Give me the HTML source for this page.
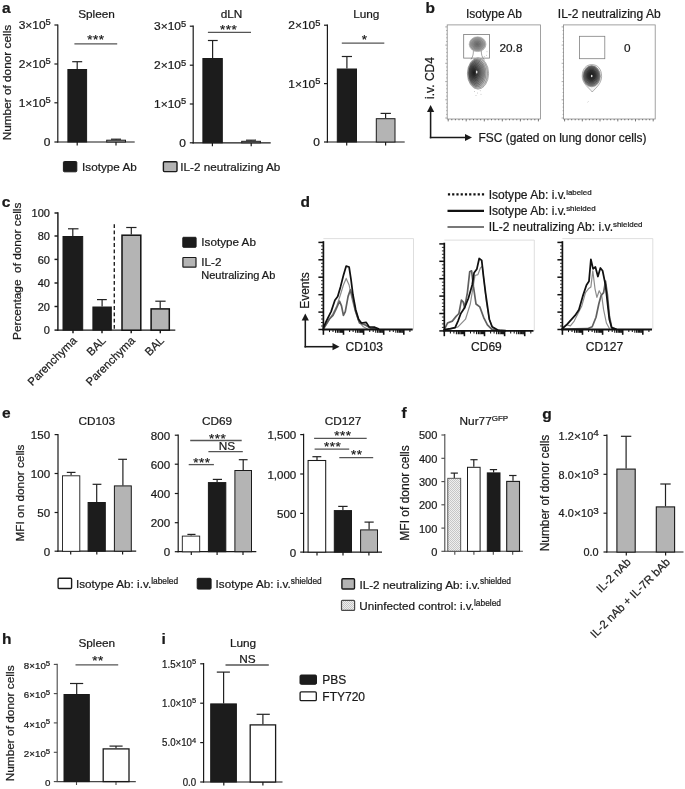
<!DOCTYPE html>
<html lang="en"><head><meta charset="utf-8"><title>Figure</title>
<style>html,body{margin:0;padding:0;background:#fff;}svg{display:block;will-change:transform;transform:translateZ(0);}text{font-family:'Liberation Sans', Arial, Helvetica, sans-serif;stroke:#1a1a1a;stroke-width:0.22px;}</style>
</head><body>
<svg width="685" height="789" viewBox="0 0 685 789">
<defs>
<pattern id="dots" width="2" height="2" patternUnits="userSpaceOnUse"><rect width="2" height="2" fill="#efefef"/><rect width="1" height="1" fill="#c6c6c6"/><rect x="1" y="1" width="1" height="1" fill="#c6c6c6"/></pattern>
<radialGradient id="blobD" cx="32%" cy="48%" r="70%"><stop offset="0" stop-color="#1c1c1c"/><stop offset="0.3" stop-color="#484848"/><stop offset="0.62" stop-color="#868686"/><stop offset="1" stop-color="#c4c4c4"/></radialGradient>
<radialGradient id="blobD2" cx="48%" cy="46%" r="58%"><stop offset="0" stop-color="#1a1a1a"/><stop offset="0.4" stop-color="#3a3a3a"/><stop offset="0.72" stop-color="#787878"/><stop offset="1" stop-color="#c0c0c0"/></radialGradient>
<radialGradient id="blobL" cx="48%" cy="50%" r="55%"><stop offset="0" stop-color="#6a6a6a"/><stop offset="0.45" stop-color="#8c8c8c"/><stop offset="0.8" stop-color="#adadad"/><stop offset="1" stop-color="#cfcfcf"/></radialGradient>
</defs>
<rect width="685" height="789" fill="#fff"/>
<text x="2.0" y="13.1" font-size="15.5" text-anchor="start" font-weight="bold" fill="#1a1a1a" >a</text>
<text x="425.5" y="12.9" font-size="15.5" text-anchor="start" font-weight="bold" fill="#1a1a1a" >b</text>
<text x="1.8" y="207.0" font-size="15.5" text-anchor="start" font-weight="bold" fill="#1a1a1a" >c</text>
<text x="300.5" y="207.3" font-size="15.5" text-anchor="start" font-weight="bold" fill="#1a1a1a" >d</text>
<text x="2.0" y="417.7" font-size="15.5" text-anchor="start" font-weight="bold" fill="#1a1a1a" >e</text>
<text x="401.5" y="418.4" font-size="15.5" text-anchor="start" font-weight="bold" fill="#1a1a1a" >f</text>
<text x="542.3" y="418.7" font-size="15.5" text-anchor="start" font-weight="bold" fill="#1a1a1a" >g</text>
<text x="2.0" y="643.7" font-size="15.5" text-anchor="start" font-weight="bold" fill="#1a1a1a" >h</text>
<text x="161.5" y="644.0" font-size="15.5" text-anchor="start" font-weight="bold" fill="#1a1a1a" >i</text>
<text transform="translate(11.3,82.6) rotate(-90) scale(1.182,1)" font-size="10.0" text-anchor="middle" fill="#1a1a1a" >Number of donor cells</text>
<text x="96.5" y="17.5" font-size="11.8" text-anchor="middle" font-weight="normal" fill="#1a1a1a" >Spleen</text>
<line x1="57.8" y1="24.4" x2="57.8" y2="142.6" stroke="#1a1a1a" stroke-width="1.2" />
<line x1="57.2" y1="142.0" x2="134.7" y2="142.0" stroke="#1a1a1a" stroke-width="1.2" />
<line x1="54.4" y1="25.0" x2="57.8" y2="25.0" stroke="#1a1a1a" stroke-width="1.2" />
<text transform="translate(50.8,29.1) scale(1.14,1)" font-size="10.5" text-anchor="end" fill="#1a1a1a">3×10<tspan dy="-3.8" font-size="8.2">5</tspan></text>
<line x1="54.4" y1="64.0" x2="57.8" y2="64.0" stroke="#1a1a1a" stroke-width="1.2" />
<text transform="translate(50.8,68.1) scale(1.14,1)" font-size="10.5" text-anchor="end" fill="#1a1a1a">2×10<tspan dy="-3.8" font-size="8.2">5</tspan></text>
<line x1="54.4" y1="102.8" x2="57.8" y2="102.8" stroke="#1a1a1a" stroke-width="1.2" />
<text transform="translate(50.8,106.9) scale(1.14,1)" font-size="10.5" text-anchor="end" fill="#1a1a1a">1×10<tspan dy="-3.8" font-size="8.2">5</tspan></text>
<line x1="54.4" y1="142.0" x2="57.8" y2="142.0" stroke="#1a1a1a" stroke-width="1.2" />
<text transform="translate(50.4,146.1) scale(1.14,1)" font-size="10.5" text-anchor="end" fill="#1a1a1a">0</text>
<line x1="77.2" y1="142.0" x2="77.2" y2="145.4" stroke="#1a1a1a" stroke-width="1.2" />
<line x1="116.0" y1="142.0" x2="116.0" y2="145.4" stroke="#1a1a1a" stroke-width="1.2" />
<line x1="77.2" y1="61.7" x2="77.2" y2="69.0" stroke="#222" stroke-width="1.2" />
<line x1="72.2" y1="61.7" x2="82.2" y2="61.7" stroke="#222" stroke-width="1.2" />
<rect x="67.9" y="69.5" width="18.7" height="72.5" fill="#1c1c1c" stroke="#1a1a1a" stroke-width="1.0"/>
<line x1="116.1" y1="139.2" x2="116.1" y2="139.7" stroke="#222" stroke-width="1.2" />
<line x1="111.0" y1="139.2" x2="121.0" y2="139.2" stroke="#222" stroke-width="1.2" />
<rect x="106.7" y="140.2" width="18.8" height="1.8" fill="#b4b4b4" stroke="#1a1a1a" stroke-width="1.0"/>
<line x1="74.4" y1="43.8" x2="117.2" y2="43.8" stroke="#555" stroke-width="1.3" />
<text x="96.0" y="43.9" font-size="13.5" text-anchor="middle" font-weight="normal" fill="#1a1a1a" letter-spacing="0.5">***</text>
<text x="231.5" y="17.5" font-size="11.8" text-anchor="middle" font-weight="normal" fill="#1a1a1a" >dLN</text>
<line x1="193.2" y1="25.4" x2="193.2" y2="143.4" stroke="#1a1a1a" stroke-width="1.2" />
<line x1="192.6" y1="142.8" x2="270.7" y2="142.8" stroke="#1a1a1a" stroke-width="1.2" />
<line x1="189.8" y1="26.2" x2="193.2" y2="26.2" stroke="#1a1a1a" stroke-width="1.2" />
<text transform="translate(186.2,30.3) scale(1.14,1)" font-size="10.5" text-anchor="end" fill="#1a1a1a">3×10<tspan dy="-3.8" font-size="8.2">5</tspan></text>
<line x1="189.8" y1="65.2" x2="193.2" y2="65.2" stroke="#1a1a1a" stroke-width="1.2" />
<text transform="translate(186.2,69.3) scale(1.14,1)" font-size="10.5" text-anchor="end" fill="#1a1a1a">2×10<tspan dy="-3.8" font-size="8.2">5</tspan></text>
<line x1="189.8" y1="104.0" x2="193.2" y2="104.0" stroke="#1a1a1a" stroke-width="1.2" />
<text transform="translate(186.2,108.1) scale(1.14,1)" font-size="10.5" text-anchor="end" fill="#1a1a1a">1×10<tspan dy="-3.8" font-size="8.2">5</tspan></text>
<line x1="189.8" y1="142.8" x2="193.2" y2="142.8" stroke="#1a1a1a" stroke-width="1.2" />
<text transform="translate(185.8,146.9) scale(1.14,1)" font-size="10.5" text-anchor="end" fill="#1a1a1a">0</text>
<line x1="212.4" y1="142.8" x2="212.4" y2="146.2" stroke="#1a1a1a" stroke-width="1.2" />
<line x1="251.2" y1="142.8" x2="251.2" y2="146.2" stroke="#1a1a1a" stroke-width="1.2" />
<line x1="212.6" y1="40.5" x2="212.6" y2="58.0" stroke="#222" stroke-width="1.2" />
<line x1="207.9" y1="40.5" x2="217.7" y2="40.5" stroke="#222" stroke-width="1.2" />
<rect x="202.9" y="58.5" width="19.4" height="84.3" fill="#1c1c1c" stroke="#1a1a1a" stroke-width="1.0"/>
<line x1="251.0" y1="140.2" x2="251.0" y2="140.8" stroke="#222" stroke-width="1.2" />
<line x1="246.0" y1="140.2" x2="256.0" y2="140.2" stroke="#222" stroke-width="1.2" />
<rect x="241.7" y="141.3" width="18.7" height="1.5" fill="#b4b4b4" stroke="#1a1a1a" stroke-width="1.0"/>
<line x1="207.9" y1="32.4" x2="251.0" y2="32.4" stroke="#555" stroke-width="1.3" />
<text x="228.7" y="34.1" font-size="13.5" text-anchor="middle" font-weight="normal" fill="#1a1a1a" letter-spacing="0.5">***</text>
<text x="366.3" y="17.5" font-size="11.8" text-anchor="middle" font-weight="normal" fill="#1a1a1a" >Lung</text>
<line x1="327.4" y1="24.4" x2="327.4" y2="142.6" stroke="#1a1a1a" stroke-width="1.2" />
<line x1="326.8" y1="142.0" x2="404.7" y2="142.0" stroke="#1a1a1a" stroke-width="1.2" />
<line x1="324.0" y1="25.2" x2="327.4" y2="25.2" stroke="#1a1a1a" stroke-width="1.2" />
<text transform="translate(320.4,29.3) scale(1.14,1)" font-size="10.5" text-anchor="end" fill="#1a1a1a">2×10<tspan dy="-3.8" font-size="8.2">5</tspan></text>
<line x1="324.0" y1="83.6" x2="327.4" y2="83.6" stroke="#1a1a1a" stroke-width="1.2" />
<text transform="translate(320.4,87.7) scale(1.14,1)" font-size="10.5" text-anchor="end" fill="#1a1a1a">1×10<tspan dy="-3.8" font-size="8.2">5</tspan></text>
<line x1="324.0" y1="142.0" x2="327.4" y2="142.0" stroke="#1a1a1a" stroke-width="1.2" />
<text transform="translate(320.0,146.1) scale(1.14,1)" font-size="10.5" text-anchor="end" fill="#1a1a1a">0</text>
<line x1="346.7" y1="142.0" x2="346.7" y2="145.4" stroke="#1a1a1a" stroke-width="1.2" />
<line x1="385.6" y1="142.0" x2="385.6" y2="145.4" stroke="#1a1a1a" stroke-width="1.2" />
<line x1="346.9" y1="56.5" x2="346.9" y2="68.5" stroke="#222" stroke-width="1.2" />
<line x1="341.8" y1="56.5" x2="352.0" y2="56.5" stroke="#222" stroke-width="1.2" />
<rect x="337.3" y="69.0" width="19.2" height="73.0" fill="#1c1c1c" stroke="#1a1a1a" stroke-width="1.0"/>
<line x1="385.6" y1="113.4" x2="385.6" y2="118.2" stroke="#222" stroke-width="1.2" />
<line x1="380.6" y1="113.4" x2="390.9" y2="113.4" stroke="#222" stroke-width="1.2" />
<rect x="376.3" y="118.7" width="18.7" height="23.3" fill="#b4b4b4" stroke="#1a1a1a" stroke-width="1.0"/>
<line x1="341.8" y1="43.1" x2="384.3" y2="43.1" stroke="#555" stroke-width="1.3" />
<text x="364.6" y="43.5" font-size="13.5" text-anchor="middle" font-weight="normal" fill="#1a1a1a" letter-spacing="0.5">*</text>
<rect x="63.4" y="161.5" width="13.4" height="10.3" rx="1.0" fill="#1c1c1c" stroke="#1a1a1a" stroke-width="1.0"/>
<text x="82.1" y="171.3" font-size="11.7" text-anchor="start" font-weight="normal" fill="#1a1a1a" >Isotype Ab</text>
<rect x="163.4" y="161.7" width="13.6" height="9.9" rx="1.0" fill="#b4b4b4" stroke="#1a1a1a" stroke-width="1.4"/>
<text x="180.3" y="171.3" font-size="11.7" text-anchor="start" font-weight="normal" fill="#1a1a1a" >IL-2 neutralizing Ab</text>
<text x="494.0" y="18.0" font-size="12.0" text-anchor="middle" font-weight="normal" fill="#1a1a1a" >Isotype Ab</text>
<text x="609.2" y="18.0" font-size="12.0" text-anchor="middle" font-weight="normal" fill="#1a1a1a" >IL-2 neutralizing Ab</text>
<rect x="447.2" y="24.9" width="93.2" height="94.1" fill="none" stroke="#8a8a8a" stroke-width="0.8"/>
<line x1="448.2" y1="119.0" x2="448.2" y2="121.4" stroke="#555" stroke-width="0.8" />
<line x1="451.8" y1="119.0" x2="451.8" y2="120.3" stroke="#555" stroke-width="0.8" />
<line x1="455.4" y1="119.0" x2="455.4" y2="120.3" stroke="#555" stroke-width="0.8" />
<line x1="459.0" y1="119.0" x2="459.0" y2="120.3" stroke="#555" stroke-width="0.8" />
<line x1="462.6" y1="119.0" x2="462.6" y2="120.3" stroke="#555" stroke-width="0.8" />
<line x1="466.2" y1="119.0" x2="466.2" y2="121.4" stroke="#555" stroke-width="0.8" />
<line x1="469.8" y1="119.0" x2="469.8" y2="120.3" stroke="#555" stroke-width="0.8" />
<line x1="473.5" y1="119.0" x2="473.5" y2="120.3" stroke="#555" stroke-width="0.8" />
<line x1="477.1" y1="119.0" x2="477.1" y2="120.3" stroke="#555" stroke-width="0.8" />
<line x1="480.7" y1="119.0" x2="480.7" y2="120.3" stroke="#555" stroke-width="0.8" />
<line x1="484.3" y1="119.0" x2="484.3" y2="121.4" stroke="#555" stroke-width="0.8" />
<line x1="487.9" y1="119.0" x2="487.9" y2="120.3" stroke="#555" stroke-width="0.8" />
<line x1="491.5" y1="119.0" x2="491.5" y2="120.3" stroke="#555" stroke-width="0.8" />
<line x1="495.1" y1="119.0" x2="495.1" y2="120.3" stroke="#555" stroke-width="0.8" />
<line x1="498.7" y1="119.0" x2="498.7" y2="120.3" stroke="#555" stroke-width="0.8" />
<line x1="502.3" y1="119.0" x2="502.3" y2="121.4" stroke="#555" stroke-width="0.8" />
<line x1="505.9" y1="119.0" x2="505.9" y2="120.3" stroke="#555" stroke-width="0.8" />
<line x1="509.5" y1="119.0" x2="509.5" y2="120.3" stroke="#555" stroke-width="0.8" />
<line x1="513.1" y1="119.0" x2="513.1" y2="120.3" stroke="#555" stroke-width="0.8" />
<line x1="516.8" y1="119.0" x2="516.8" y2="120.3" stroke="#555" stroke-width="0.8" />
<line x1="520.4" y1="119.0" x2="520.4" y2="121.4" stroke="#555" stroke-width="0.8" />
<line x1="524.0" y1="119.0" x2="524.0" y2="120.3" stroke="#555" stroke-width="0.8" />
<line x1="527.6" y1="119.0" x2="527.6" y2="120.3" stroke="#555" stroke-width="0.8" />
<line x1="531.2" y1="119.0" x2="531.2" y2="120.3" stroke="#555" stroke-width="0.8" />
<line x1="534.8" y1="119.0" x2="534.8" y2="120.3" stroke="#555" stroke-width="0.8" />
<line x1="538.4" y1="119.0" x2="538.4" y2="121.4" stroke="#555" stroke-width="0.8" />
<line x1="445.2" y1="118.0" x2="447.2" y2="118.0" stroke="#777" stroke-width="0.6" />
<line x1="446.2" y1="114.4" x2="447.2" y2="114.4" stroke="#777" stroke-width="0.6" />
<line x1="446.2" y1="110.7" x2="447.2" y2="110.7" stroke="#777" stroke-width="0.6" />
<line x1="446.2" y1="107.1" x2="447.2" y2="107.1" stroke="#777" stroke-width="0.6" />
<line x1="446.2" y1="103.4" x2="447.2" y2="103.4" stroke="#777" stroke-width="0.6" />
<line x1="445.2" y1="99.8" x2="447.2" y2="99.8" stroke="#777" stroke-width="0.6" />
<line x1="446.2" y1="96.1" x2="447.2" y2="96.1" stroke="#777" stroke-width="0.6" />
<line x1="446.2" y1="92.5" x2="447.2" y2="92.5" stroke="#777" stroke-width="0.6" />
<line x1="446.2" y1="88.8" x2="447.2" y2="88.8" stroke="#777" stroke-width="0.6" />
<line x1="446.2" y1="85.2" x2="447.2" y2="85.2" stroke="#777" stroke-width="0.6" />
<line x1="445.2" y1="81.6" x2="447.2" y2="81.6" stroke="#777" stroke-width="0.6" />
<line x1="446.2" y1="77.9" x2="447.2" y2="77.9" stroke="#777" stroke-width="0.6" />
<line x1="446.2" y1="74.3" x2="447.2" y2="74.3" stroke="#777" stroke-width="0.6" />
<line x1="446.2" y1="70.6" x2="447.2" y2="70.6" stroke="#777" stroke-width="0.6" />
<line x1="446.2" y1="67.0" x2="447.2" y2="67.0" stroke="#777" stroke-width="0.6" />
<line x1="445.2" y1="63.3" x2="447.2" y2="63.3" stroke="#777" stroke-width="0.6" />
<line x1="446.2" y1="59.7" x2="447.2" y2="59.7" stroke="#777" stroke-width="0.6" />
<line x1="446.2" y1="56.1" x2="447.2" y2="56.1" stroke="#777" stroke-width="0.6" />
<line x1="446.2" y1="52.4" x2="447.2" y2="52.4" stroke="#777" stroke-width="0.6" />
<line x1="446.2" y1="48.8" x2="447.2" y2="48.8" stroke="#777" stroke-width="0.6" />
<line x1="445.2" y1="45.1" x2="447.2" y2="45.1" stroke="#777" stroke-width="0.6" />
<line x1="446.2" y1="41.5" x2="447.2" y2="41.5" stroke="#777" stroke-width="0.6" />
<line x1="446.2" y1="37.8" x2="447.2" y2="37.8" stroke="#777" stroke-width="0.6" />
<line x1="446.2" y1="34.2" x2="447.2" y2="34.2" stroke="#777" stroke-width="0.6" />
<line x1="446.2" y1="30.5" x2="447.2" y2="30.5" stroke="#777" stroke-width="0.6" />
<line x1="445.2" y1="26.9" x2="447.2" y2="26.9" stroke="#777" stroke-width="0.6" />
<rect x="563.6" y="24.9" width="91.6" height="94.1" fill="none" stroke="#8a8a8a" stroke-width="0.8"/>
<line x1="564.6" y1="119.0" x2="564.6" y2="121.4" stroke="#555" stroke-width="0.8" />
<line x1="568.1" y1="119.0" x2="568.1" y2="120.3" stroke="#555" stroke-width="0.8" />
<line x1="571.7" y1="119.0" x2="571.7" y2="120.3" stroke="#555" stroke-width="0.8" />
<line x1="575.2" y1="119.0" x2="575.2" y2="120.3" stroke="#555" stroke-width="0.8" />
<line x1="578.8" y1="119.0" x2="578.8" y2="120.3" stroke="#555" stroke-width="0.8" />
<line x1="582.3" y1="119.0" x2="582.3" y2="121.4" stroke="#555" stroke-width="0.8" />
<line x1="585.9" y1="119.0" x2="585.9" y2="120.3" stroke="#555" stroke-width="0.8" />
<line x1="589.4" y1="119.0" x2="589.4" y2="120.3" stroke="#555" stroke-width="0.8" />
<line x1="593.0" y1="119.0" x2="593.0" y2="120.3" stroke="#555" stroke-width="0.8" />
<line x1="596.5" y1="119.0" x2="596.5" y2="120.3" stroke="#555" stroke-width="0.8" />
<line x1="600.0" y1="119.0" x2="600.0" y2="121.4" stroke="#555" stroke-width="0.8" />
<line x1="603.6" y1="119.0" x2="603.6" y2="120.3" stroke="#555" stroke-width="0.8" />
<line x1="607.1" y1="119.0" x2="607.1" y2="120.3" stroke="#555" stroke-width="0.8" />
<line x1="610.7" y1="119.0" x2="610.7" y2="120.3" stroke="#555" stroke-width="0.8" />
<line x1="614.2" y1="119.0" x2="614.2" y2="120.3" stroke="#555" stroke-width="0.8" />
<line x1="617.8" y1="119.0" x2="617.8" y2="121.4" stroke="#555" stroke-width="0.8" />
<line x1="621.3" y1="119.0" x2="621.3" y2="120.3" stroke="#555" stroke-width="0.8" />
<line x1="624.8" y1="119.0" x2="624.8" y2="120.3" stroke="#555" stroke-width="0.8" />
<line x1="628.4" y1="119.0" x2="628.4" y2="120.3" stroke="#555" stroke-width="0.8" />
<line x1="631.9" y1="119.0" x2="631.9" y2="120.3" stroke="#555" stroke-width="0.8" />
<line x1="635.5" y1="119.0" x2="635.5" y2="121.4" stroke="#555" stroke-width="0.8" />
<line x1="639.0" y1="119.0" x2="639.0" y2="120.3" stroke="#555" stroke-width="0.8" />
<line x1="642.6" y1="119.0" x2="642.6" y2="120.3" stroke="#555" stroke-width="0.8" />
<line x1="646.1" y1="119.0" x2="646.1" y2="120.3" stroke="#555" stroke-width="0.8" />
<line x1="649.7" y1="119.0" x2="649.7" y2="120.3" stroke="#555" stroke-width="0.8" />
<line x1="653.2" y1="119.0" x2="653.2" y2="121.4" stroke="#555" stroke-width="0.8" />
<line x1="561.6" y1="118.0" x2="563.6" y2="118.0" stroke="#777" stroke-width="0.6" />
<line x1="562.6" y1="114.4" x2="563.6" y2="114.4" stroke="#777" stroke-width="0.6" />
<line x1="562.6" y1="110.7" x2="563.6" y2="110.7" stroke="#777" stroke-width="0.6" />
<line x1="562.6" y1="107.1" x2="563.6" y2="107.1" stroke="#777" stroke-width="0.6" />
<line x1="562.6" y1="103.4" x2="563.6" y2="103.4" stroke="#777" stroke-width="0.6" />
<line x1="561.6" y1="99.8" x2="563.6" y2="99.8" stroke="#777" stroke-width="0.6" />
<line x1="562.6" y1="96.1" x2="563.6" y2="96.1" stroke="#777" stroke-width="0.6" />
<line x1="562.6" y1="92.5" x2="563.6" y2="92.5" stroke="#777" stroke-width="0.6" />
<line x1="562.6" y1="88.8" x2="563.6" y2="88.8" stroke="#777" stroke-width="0.6" />
<line x1="562.6" y1="85.2" x2="563.6" y2="85.2" stroke="#777" stroke-width="0.6" />
<line x1="561.6" y1="81.6" x2="563.6" y2="81.6" stroke="#777" stroke-width="0.6" />
<line x1="562.6" y1="77.9" x2="563.6" y2="77.9" stroke="#777" stroke-width="0.6" />
<line x1="562.6" y1="74.3" x2="563.6" y2="74.3" stroke="#777" stroke-width="0.6" />
<line x1="562.6" y1="70.6" x2="563.6" y2="70.6" stroke="#777" stroke-width="0.6" />
<line x1="562.6" y1="67.0" x2="563.6" y2="67.0" stroke="#777" stroke-width="0.6" />
<line x1="561.6" y1="63.3" x2="563.6" y2="63.3" stroke="#777" stroke-width="0.6" />
<line x1="562.6" y1="59.7" x2="563.6" y2="59.7" stroke="#777" stroke-width="0.6" />
<line x1="562.6" y1="56.1" x2="563.6" y2="56.1" stroke="#777" stroke-width="0.6" />
<line x1="562.6" y1="52.4" x2="563.6" y2="52.4" stroke="#777" stroke-width="0.6" />
<line x1="562.6" y1="48.8" x2="563.6" y2="48.8" stroke="#777" stroke-width="0.6" />
<line x1="561.6" y1="45.1" x2="563.6" y2="45.1" stroke="#777" stroke-width="0.6" />
<line x1="562.6" y1="41.5" x2="563.6" y2="41.5" stroke="#777" stroke-width="0.6" />
<line x1="562.6" y1="37.8" x2="563.6" y2="37.8" stroke="#777" stroke-width="0.6" />
<line x1="562.6" y1="34.2" x2="563.6" y2="34.2" stroke="#777" stroke-width="0.6" />
<line x1="562.6" y1="30.5" x2="563.6" y2="30.5" stroke="#777" stroke-width="0.6" />
<line x1="561.6" y1="26.9" x2="563.6" y2="26.9" stroke="#777" stroke-width="0.6" />
<rect x="463.7" y="34.4" width="25.7" height="23.7" fill="none" stroke="#787878" stroke-width="0.8"/>
<rect x="579.6" y="36.3" width="25.2" height="22.4" fill="none" stroke="#808080" stroke-width="0.8"/>
<text x="499.5" y="52.0" font-size="11.8" text-anchor="start" font-weight="normal" fill="#1a1a1a" >20.8</text>
<text x="627.3" y="52.0" font-size="11.8" text-anchor="middle" font-weight="normal" fill="#1a1a1a" >0</text>
<g>
<ellipse cx="477.6" cy="44.2" rx="8.4" ry="7.4" fill="url(#blobL)" stroke="#8a8a8a" stroke-width="0.5"/>
<ellipse cx="477.50" cy="44.1" rx="7.2" ry="6.3" fill="none" stroke="#555" stroke-width="0.4" opacity="0.7"/>
<ellipse cx="477.45" cy="44.1" rx="6.0" ry="5.2" fill="none" stroke="#555" stroke-width="0.4" opacity="0.7"/>
<ellipse cx="477.40" cy="44.1" rx="4.8" ry="4.2" fill="none" stroke="#555" stroke-width="0.4" opacity="0.7"/>
<ellipse cx="477.35" cy="44.1" rx="3.6" ry="3.1" fill="none" stroke="#555" stroke-width="0.4" opacity="0.7"/>
<ellipse cx="477.30" cy="44.1" rx="2.4" ry="2.1" fill="none" stroke="#555" stroke-width="0.4" opacity="0.7"/>
<ellipse cx="477.25" cy="44.1" rx="1.2" ry="1.0" fill="none" stroke="#555" stroke-width="0.4" opacity="0.7"/>
<path d="M473.4,50.8 C473.3,54 473.2,56 471.0,59.5" fill="none" stroke="#6a6a6a" stroke-width="0.6"/>
<path d="M481.3,50.8 C481.3,54 481.6,56.5 484.6,60.5" fill="none" stroke="#6a6a6a" stroke-width="0.6"/>
<ellipse cx="478.0" cy="73.5" rx="10.6" ry="15.7" fill="#e4e4e4" stroke="#6a6a6a" stroke-width="0.5"/>
<ellipse cx="477.7" cy="73.4" rx="9.8" ry="14.8" fill="#cfcfcf" stroke="#5a5a5a" stroke-width="0.5"/>
<ellipse cx="477.2" cy="73.2" rx="8.8" ry="13.8" fill="url(#blobD)" stroke="#444" stroke-width="0.4"/>
<ellipse cx="476.90" cy="73.00" rx="7.8" ry="12.4" fill="none" stroke="#1a1a1a" stroke-width="0.4" opacity="0.75"/>
<ellipse cx="476.78" cy="72.90" rx="6.8" ry="11" fill="none" stroke="#1a1a1a" stroke-width="0.4" opacity="0.75"/>
<ellipse cx="476.66" cy="72.80" rx="5.8" ry="9.6" fill="none" stroke="#1a1a1a" stroke-width="0.4" opacity="0.75"/>
<ellipse cx="476.54" cy="72.70" rx="4.8" ry="8.2" fill="none" stroke="#1a1a1a" stroke-width="0.4" opacity="0.75"/>
<ellipse cx="476.42" cy="72.60" rx="3.8" ry="6.8" fill="none" stroke="#1a1a1a" stroke-width="0.4" opacity="0.75"/>
<ellipse cx="476.30" cy="72.50" rx="2.8" ry="5.2" fill="none" stroke="#1a1a1a" stroke-width="0.4" opacity="0.75"/>
<ellipse cx="476.18" cy="72.40" rx="1.8" ry="3.6" fill="none" stroke="#1a1a1a" stroke-width="0.4" opacity="0.75"/>
<ellipse cx="476.7" cy="72.0" rx="0.8" ry="1.5" fill="#e6e6e6"/>
<circle cx="474.5" cy="91.5" r="0.45" fill="#999"/>
<circle cx="477.5" cy="93" r="0.45" fill="#999"/>
<circle cx="480.2" cy="90.8" r="0.45" fill="#999"/>
<circle cx="476" cy="95.5" r="0.45" fill="#999"/>
<circle cx="481" cy="94.2" r="0.45" fill="#999"/>
<circle cx="483.5" cy="86.8" r="0.45" fill="#999"/>
<circle cx="486.5" cy="55.2" r="0.45" fill="#999"/>
<circle cx="484.2" cy="56.5" r="0.45" fill="#999"/>
<circle cx="487" cy="51.8" r="0.45" fill="#999"/>
</g>
<g transform="translate(0.8,0)">
<path d="M581.4,76.3 C581.4,68.6 585.6,64.6 591,64.6 C596.6,64.6 600.8,68.6 600.8,76.3 C600.8,83.6 595.4,87.6 591.4,92 C588,87.6 581.4,83.6 581.4,76.3 Z" fill="#f2f2f2" stroke="#666" stroke-width="0.5"/>
<ellipse cx="590.9" cy="76.2" rx="8.7" ry="10.6" fill="url(#blobD2)" stroke="#444" stroke-width="0.4"/>
<ellipse cx="590.8" cy="76.20" rx="7.7" ry="9.4" fill="none" stroke="#161616" stroke-width="0.4" opacity="0.8"/>
<ellipse cx="590.8" cy="76.15" rx="6.7" ry="8.2" fill="none" stroke="#161616" stroke-width="0.4" opacity="0.8"/>
<ellipse cx="590.8" cy="76.10" rx="5.7" ry="7.0" fill="none" stroke="#161616" stroke-width="0.4" opacity="0.8"/>
<ellipse cx="590.8" cy="76.05" rx="4.7" ry="5.8" fill="none" stroke="#161616" stroke-width="0.4" opacity="0.8"/>
<ellipse cx="590.8" cy="76.00" rx="3.7" ry="4.6" fill="none" stroke="#161616" stroke-width="0.4" opacity="0.8"/>
<ellipse cx="590.8" cy="75.95" rx="2.7" ry="3.4" fill="none" stroke="#161616" stroke-width="0.4" opacity="0.8"/>
<ellipse cx="590.8" cy="75.90" rx="1.7" ry="2.2" fill="none" stroke="#161616" stroke-width="0.4" opacity="0.8"/>
<ellipse cx="590.9" cy="76.0" rx="0.8" ry="1.3" fill="#e6e6e6"/>
</g>
<circle cx="588.2" cy="101.5" r="0.45" fill="#bbb"/><circle cx="587.4" cy="102.4" r="0.4" fill="#ccc"/>
<line x1="430.6" y1="109.9" x2="430.6" y2="138.3" stroke="#1a1a1a" stroke-width="1.55" />
<line x1="429.8" y1="137.5" x2="467.0" y2="137.5" stroke="#1a1a1a" stroke-width="1.55" />
<polygon points="430.6,104.9 427.0,111.9 434.2,111.9" fill="#1a1a1a"/>
<polygon points="472.0,137.5 465.0,133.9 465.0,141.1" fill="#1a1a1a"/>
<text transform="translate(434.2,78.0) rotate(-90) scale(1,1)" font-size="12.0" text-anchor="middle" fill="#1a1a1a" >i.v. CD4</text>
<text x="478.6" y="141.5" font-size="11.9" text-anchor="start" font-weight="normal" fill="#1a1a1a" >FSC (gated on lung donor cells)</text>
<text transform="translate(21.0,271.3) rotate(-90) scale(1.15,1)" font-size="10.3" text-anchor="middle" fill="#1a1a1a" >Percentage&#160; of donor cells</text>
<line x1="57.9" y1="212.3" x2="57.9" y2="330.8" stroke="#1a1a1a" stroke-width="1.45" />
<line x1="57.2" y1="330.1" x2="175.3" y2="330.1" stroke="#1a1a1a" stroke-width="1.45" />
<line x1="54.5" y1="213.0" x2="57.9" y2="213.0" stroke="#1a1a1a" stroke-width="1.45" />
<text transform="translate(49.9,217.1) scale(1.05,1)" font-size="10.5" text-anchor="end" fill="#1a1a1a">100</text>
<line x1="54.5" y1="236.0" x2="57.9" y2="236.0" stroke="#1a1a1a" stroke-width="1.45" />
<text transform="translate(49.9,240.1) scale(1.05,1)" font-size="10.5" text-anchor="end" fill="#1a1a1a">80</text>
<line x1="54.5" y1="259.4" x2="57.9" y2="259.4" stroke="#1a1a1a" stroke-width="1.45" />
<text transform="translate(49.9,263.5) scale(1.05,1)" font-size="10.5" text-anchor="end" fill="#1a1a1a">60</text>
<line x1="54.5" y1="283.0" x2="57.9" y2="283.0" stroke="#1a1a1a" stroke-width="1.45" />
<text transform="translate(49.9,287.1) scale(1.05,1)" font-size="10.5" text-anchor="end" fill="#1a1a1a">40</text>
<line x1="54.5" y1="306.5" x2="57.9" y2="306.5" stroke="#1a1a1a" stroke-width="1.45" />
<text transform="translate(49.9,310.6) scale(1.05,1)" font-size="10.5" text-anchor="end" fill="#1a1a1a">20</text>
<line x1="54.5" y1="330.1" x2="57.9" y2="330.1" stroke="#1a1a1a" stroke-width="1.45" />
<text transform="translate(49.9,334.2) scale(1.05,1)" font-size="10.5" text-anchor="end" fill="#1a1a1a">0</text>
<line x1="73.0" y1="330.1" x2="73.0" y2="333.3" stroke="#1a1a1a" stroke-width="1.45" />
<line x1="102.0" y1="330.1" x2="102.0" y2="333.3" stroke="#1a1a1a" stroke-width="1.45" />
<line x1="131.2" y1="330.1" x2="131.2" y2="333.3" stroke="#1a1a1a" stroke-width="1.45" />
<line x1="160.3" y1="330.1" x2="160.3" y2="333.3" stroke="#1a1a1a" stroke-width="1.45" />
<line x1="72.8" y1="228.8" x2="72.8" y2="236.0" stroke="#222" stroke-width="1.2" />
<line x1="68.0" y1="228.8" x2="78.5" y2="228.8" stroke="#222" stroke-width="1.2" />
<rect x="63.0" y="236.5" width="19.7" height="93.6" fill="#1c1c1c" stroke="#1a1a1a" stroke-width="1.0"/>
<line x1="102.1" y1="299.6" x2="102.1" y2="306.5" stroke="#222" stroke-width="1.2" />
<line x1="97.0" y1="299.6" x2="106.8" y2="299.6" stroke="#222" stroke-width="1.2" />
<rect x="92.9" y="307.0" width="18.4" height="23.1" fill="#1c1c1c" stroke="#1a1a1a" stroke-width="1.0"/>
<line x1="114.3" y1="224.2" x2="114.3" y2="330.0" stroke="#222" stroke-width="1.4" stroke-dasharray="3.8 2.5"/>
<line x1="131.3" y1="227.5" x2="131.3" y2="234.4" stroke="#222" stroke-width="1.2" />
<line x1="126.2" y1="227.5" x2="136.5" y2="227.5" stroke="#222" stroke-width="1.2" />
<rect x="122.0" y="235.2" width="18.8" height="95.0" fill="#b4b4b4" stroke="#111" stroke-width="1.5"/>
<line x1="160.2" y1="301.2" x2="160.2" y2="308.2" stroke="#222" stroke-width="1.2" />
<line x1="155.3" y1="301.2" x2="165.6" y2="301.2" stroke="#222" stroke-width="1.2" />
<rect x="151.1" y="308.9" width="18.2" height="21.2" fill="#b4b4b4" stroke="#111" stroke-width="1.5"/>
<text transform="translate(77.5,341.2) rotate(-45) scale(1,1)" font-size="11.4" text-anchor="end" fill="#1a1a1a" >Parenchyma</text>
<text transform="translate(106.5,341.2) rotate(-45) scale(1,1)" font-size="11.4" text-anchor="end" fill="#1a1a1a" >BAL</text>
<text transform="translate(135.7,341.2) rotate(-45) scale(1,1)" font-size="11.4" text-anchor="end" fill="#1a1a1a" >Parenchyma</text>
<text transform="translate(164.8,341.2) rotate(-45) scale(1,1)" font-size="11.4" text-anchor="end" fill="#1a1a1a" >BAL</text>
<rect x="182.8" y="237.3" width="13.3" height="10.0" rx="0.6" fill="#1c1c1c" stroke="#1a1a1a" stroke-width="1.0"/>
<text x="201.3" y="246.3" font-size="11.7" text-anchor="start" font-weight="normal" fill="#1a1a1a" >Isotype Ab</text>
<rect x="182.9" y="257.5" width="13.1" height="9.6" rx="0.6" fill="#b4b4b4" stroke="#1a1a1a" stroke-width="1.2"/>
<text x="201.3" y="266.4" font-size="11.7" text-anchor="start" font-weight="normal" fill="#1a1a1a" >IL-2</text>
<text x="201.3" y="279.1" font-size="11" text-anchor="start" font-weight="normal" fill="#1a1a1a" >Neutralizing Ab</text>
<line x1="447.9" y1="194.3" x2="484.2" y2="194.3" stroke="#111" stroke-width="2.3" stroke-dasharray="2.2 2.05"/>
<text x="488.7" y="198.5" font-size="12.05" text-anchor="start" font-weight="normal" fill="#1a1a1a" >Isotype Ab: i.v.<tspan dy="-3.9" font-size="7.9">labeled</tspan></text>
<line x1="447.5" y1="210.8" x2="484.0" y2="210.8" stroke="#111" stroke-width="2.3" />
<text x="488.7" y="214.5" font-size="12.05" text-anchor="start" font-weight="normal" fill="#1a1a1a" >Isotype Ab: i.v.<tspan dy="-3.9" font-size="7.9">shielded</tspan></text>
<line x1="447.5" y1="227.0" x2="484.0" y2="227.0" stroke="#787878" stroke-width="2.1" />
<text x="488.7" y="231.0" font-size="12.05" text-anchor="start" font-weight="normal" fill="#1a1a1a" >IL-2 neutralizing Ab: i.v.<tspan dy="-3.9" font-size="7.9">shielded</tspan></text>
<polyline points="323.4,238.6 413.5,238.6 413.5,329.5" fill="none" stroke="#d6d6d6" stroke-width="0.8"/>
<polyline points="323.5,328.7 327.3,323.0 333.0,313.5 336.8,305.9 340.5,294.5 343.4,285.0 346.2,278.4 349.1,285.0 351.9,298.3 354.8,309.7 358.6,321.1 363.3,326.8 367.1,328.7" fill="none" stroke="#8c8c8c" stroke-width="1.2" stroke-linejoin="round" stroke-linecap="round"/>
<polyline points="323.5,328.7 329.2,319.2 333.0,315.4 335.8,309.7 339.6,301.2 341.5,305.9 343.4,315.4 345.3,311.6 348.1,296.4 350.4,289.8 352.9,298.3 355.7,311.6 359.5,323.0 365.2,324.9 370.9,328.3 376.6,328.7" fill="none" stroke="#606060" stroke-width="1.7" stroke-linejoin="round" stroke-linecap="round"/>
<polyline points="323.5,327.7 326.3,321.1 331.1,311.6 334.9,300.2 337.7,296.4 340.5,286.9 343.4,275.5 346.2,266.1 349.1,267.0 351.0,279.3 352.9,294.5 355.7,309.7 358.6,319.2 361.4,323.0 366.2,322.4 369.0,326.8 374.7,327.2 378.5,328.7" fill="none" stroke="#111" stroke-width="1.75" stroke-linejoin="round" stroke-linecap="round"/>
<line x1="323.4" y1="241.2" x2="323.4" y2="330.4" stroke="#111" stroke-width="1.7" />
<line x1="322.5" y1="329.5" x2="412.7" y2="329.5" stroke="#111" stroke-width="1.8" />
<line x1="318.4" y1="329.5" x2="323.4" y2="329.5" stroke="#111" stroke-width="1.5" />
<line x1="321.0" y1="326.0" x2="323.4" y2="326.0" stroke="#1a1a1a" stroke-width="0.9" />
<line x1="321.0" y1="322.5" x2="323.4" y2="322.5" stroke="#1a1a1a" stroke-width="0.9" />
<line x1="321.0" y1="319.0" x2="323.4" y2="319.0" stroke="#1a1a1a" stroke-width="0.9" />
<line x1="321.0" y1="315.6" x2="323.4" y2="315.6" stroke="#1a1a1a" stroke-width="0.9" />
<line x1="318.4" y1="312.1" x2="323.4" y2="312.1" stroke="#111" stroke-width="1.5" />
<line x1="321.0" y1="308.6" x2="323.4" y2="308.6" stroke="#1a1a1a" stroke-width="0.9" />
<line x1="321.0" y1="305.1" x2="323.4" y2="305.1" stroke="#1a1a1a" stroke-width="0.9" />
<line x1="321.0" y1="301.6" x2="323.4" y2="301.6" stroke="#1a1a1a" stroke-width="0.9" />
<line x1="321.0" y1="298.1" x2="323.4" y2="298.1" stroke="#1a1a1a" stroke-width="0.9" />
<line x1="318.4" y1="294.7" x2="323.4" y2="294.7" stroke="#111" stroke-width="1.5" />
<line x1="321.0" y1="291.2" x2="323.4" y2="291.2" stroke="#1a1a1a" stroke-width="0.9" />
<line x1="321.0" y1="287.7" x2="323.4" y2="287.7" stroke="#1a1a1a" stroke-width="0.9" />
<line x1="321.0" y1="284.2" x2="323.4" y2="284.2" stroke="#1a1a1a" stroke-width="0.9" />
<line x1="321.0" y1="280.7" x2="323.4" y2="280.7" stroke="#1a1a1a" stroke-width="0.9" />
<line x1="318.4" y1="277.2" x2="323.4" y2="277.2" stroke="#111" stroke-width="1.5" />
<line x1="321.0" y1="273.8" x2="323.4" y2="273.8" stroke="#1a1a1a" stroke-width="0.9" />
<line x1="321.0" y1="270.3" x2="323.4" y2="270.3" stroke="#1a1a1a" stroke-width="0.9" />
<line x1="321.0" y1="266.8" x2="323.4" y2="266.8" stroke="#1a1a1a" stroke-width="0.9" />
<line x1="321.0" y1="263.3" x2="323.4" y2="263.3" stroke="#1a1a1a" stroke-width="0.9" />
<line x1="318.4" y1="259.8" x2="323.4" y2="259.8" stroke="#111" stroke-width="1.5" />
<line x1="321.0" y1="256.3" x2="323.4" y2="256.3" stroke="#1a1a1a" stroke-width="0.9" />
<line x1="321.0" y1="252.9" x2="323.4" y2="252.9" stroke="#1a1a1a" stroke-width="0.9" />
<line x1="321.0" y1="249.4" x2="323.4" y2="249.4" stroke="#1a1a1a" stroke-width="0.9" />
<line x1="321.0" y1="245.9" x2="323.4" y2="245.9" stroke="#1a1a1a" stroke-width="0.9" />
<line x1="318.4" y1="242.4" x2="323.4" y2="242.4" stroke="#111" stroke-width="1.5" />
<line x1="323.4" y1="329.5" x2="323.4" y2="334.8" stroke="#111" stroke-width="1.6" />
<line x1="329.5" y1="329.5" x2="329.5" y2="332.1" stroke="#151515" stroke-width="1.05" />
<line x1="333.0" y1="329.5" x2="333.0" y2="332.1" stroke="#151515" stroke-width="1.05" />
<line x1="335.5" y1="329.5" x2="335.5" y2="332.8" stroke="#151515" stroke-width="1.05" />
<line x1="337.4" y1="329.5" x2="337.4" y2="332.8" stroke="#151515" stroke-width="1.35" />
<line x1="339.0" y1="329.5" x2="339.0" y2="332.8" stroke="#151515" stroke-width="1.35" />
<line x1="340.4" y1="329.5" x2="340.4" y2="332.8" stroke="#151515" stroke-width="1.35" />
<line x1="341.6" y1="329.5" x2="341.6" y2="332.8" stroke="#151515" stroke-width="1.35" />
<line x1="342.6" y1="329.5" x2="342.6" y2="332.8" stroke="#151515" stroke-width="1.35" />
<line x1="343.5" y1="329.5" x2="343.5" y2="334.8" stroke="#111" stroke-width="1.6" />
<line x1="349.6" y1="329.5" x2="349.6" y2="332.1" stroke="#151515" stroke-width="1.05" />
<line x1="353.1" y1="329.5" x2="353.1" y2="332.1" stroke="#151515" stroke-width="1.05" />
<line x1="355.6" y1="329.5" x2="355.6" y2="332.8" stroke="#151515" stroke-width="1.05" />
<line x1="357.5" y1="329.5" x2="357.5" y2="332.8" stroke="#151515" stroke-width="1.35" />
<line x1="359.1" y1="329.5" x2="359.1" y2="332.8" stroke="#151515" stroke-width="1.35" />
<line x1="360.5" y1="329.5" x2="360.5" y2="332.8" stroke="#151515" stroke-width="1.35" />
<line x1="361.7" y1="329.5" x2="361.7" y2="332.8" stroke="#151515" stroke-width="1.35" />
<line x1="362.7" y1="329.5" x2="362.7" y2="332.8" stroke="#151515" stroke-width="1.35" />
<line x1="363.6" y1="329.5" x2="363.6" y2="334.8" stroke="#111" stroke-width="1.6" />
<line x1="369.7" y1="329.5" x2="369.7" y2="332.1" stroke="#151515" stroke-width="1.05" />
<line x1="373.2" y1="329.5" x2="373.2" y2="332.1" stroke="#151515" stroke-width="1.05" />
<line x1="375.7" y1="329.5" x2="375.7" y2="332.8" stroke="#151515" stroke-width="1.05" />
<line x1="377.6" y1="329.5" x2="377.6" y2="332.8" stroke="#151515" stroke-width="1.35" />
<line x1="379.2" y1="329.5" x2="379.2" y2="332.8" stroke="#151515" stroke-width="1.35" />
<line x1="380.6" y1="329.5" x2="380.6" y2="332.8" stroke="#151515" stroke-width="1.35" />
<line x1="381.8" y1="329.5" x2="381.8" y2="332.8" stroke="#151515" stroke-width="1.35" />
<line x1="382.8" y1="329.5" x2="382.8" y2="332.8" stroke="#151515" stroke-width="1.35" />
<line x1="383.7" y1="329.5" x2="383.7" y2="334.8" stroke="#111" stroke-width="1.6" />
<line x1="389.8" y1="329.5" x2="389.8" y2="332.1" stroke="#151515" stroke-width="1.05" />
<line x1="393.3" y1="329.5" x2="393.3" y2="332.1" stroke="#151515" stroke-width="1.05" />
<line x1="395.8" y1="329.5" x2="395.8" y2="332.8" stroke="#151515" stroke-width="1.05" />
<line x1="397.7" y1="329.5" x2="397.7" y2="332.8" stroke="#151515" stroke-width="1.35" />
<line x1="399.3" y1="329.5" x2="399.3" y2="332.8" stroke="#151515" stroke-width="1.35" />
<line x1="400.7" y1="329.5" x2="400.7" y2="332.8" stroke="#151515" stroke-width="1.35" />
<line x1="401.9" y1="329.5" x2="401.9" y2="332.8" stroke="#151515" stroke-width="1.35" />
<line x1="402.9" y1="329.5" x2="402.9" y2="332.8" stroke="#151515" stroke-width="1.35" />
<line x1="403.8" y1="329.5" x2="403.8" y2="334.8" stroke="#111" stroke-width="1.6" />
<line x1="409.9" y1="329.5" x2="409.9" y2="332.1" stroke="#151515" stroke-width="1.05" />
<polyline points="444.3,240.1 534.3,240.1 534.3,330.9" fill="none" stroke="#d6d6d6" stroke-width="0.8"/>
<polyline points="448.5,329.6 458.0,326.8 465.5,319.2 470.3,304.0 473.1,286.9 475.0,275.5 477.9,274.6 480.4,268.0 482.3,266.1 484.1,281.2 486.4,302.1 489.3,319.2 493.1,328.7 499.7,330.6" fill="none" stroke="#8c8c8c" stroke-width="1.2" stroke-linejoin="round" stroke-linecap="round"/>
<polyline points="444.3,329.6 447.5,323.0 452.3,321.1 456.1,316.4 458.9,313.5 461.4,300.2 463.3,302.1 464.6,307.8 467.4,292.6 469.7,271.8 471.6,270.8 473.5,286.9 476.0,304.0 479.8,306.9 483.6,317.3 487.4,324.9 492.1,329.6 499.7,330.6" fill="none" stroke="#606060" stroke-width="1.7" stroke-linejoin="round" stroke-linecap="round"/>
<polyline points="444.3,329.6 450.4,328.7 455.1,327.7 458.0,321.1 460.8,313.5 464.6,307.8 468.4,298.3 472.2,285.0 474.1,272.7 476.9,268.9 479.2,258.5 481.7,260.4 483.6,277.4 485.5,292.6 487.4,305.9 489.3,319.2 492.1,326.8 497.8,330.0 505.4,330.6" fill="none" stroke="#111" stroke-width="1.75" stroke-linejoin="round" stroke-linecap="round"/>
<line x1="444.3" y1="242.7" x2="444.3" y2="331.8" stroke="#111" stroke-width="1.7" />
<line x1="443.4" y1="330.9" x2="533.5" y2="330.9" stroke="#111" stroke-width="1.8" />
<line x1="439.3" y1="330.9" x2="444.3" y2="330.9" stroke="#111" stroke-width="1.5" />
<line x1="441.9" y1="327.4" x2="444.3" y2="327.4" stroke="#1a1a1a" stroke-width="0.9" />
<line x1="441.9" y1="323.9" x2="444.3" y2="323.9" stroke="#1a1a1a" stroke-width="0.9" />
<line x1="441.9" y1="320.5" x2="444.3" y2="320.5" stroke="#1a1a1a" stroke-width="0.9" />
<line x1="441.9" y1="317.0" x2="444.3" y2="317.0" stroke="#1a1a1a" stroke-width="0.9" />
<line x1="439.3" y1="313.5" x2="444.3" y2="313.5" stroke="#111" stroke-width="1.5" />
<line x1="441.9" y1="310.0" x2="444.3" y2="310.0" stroke="#1a1a1a" stroke-width="0.9" />
<line x1="441.9" y1="306.5" x2="444.3" y2="306.5" stroke="#1a1a1a" stroke-width="0.9" />
<line x1="441.9" y1="303.1" x2="444.3" y2="303.1" stroke="#1a1a1a" stroke-width="0.9" />
<line x1="441.9" y1="299.6" x2="444.3" y2="299.6" stroke="#1a1a1a" stroke-width="0.9" />
<line x1="439.3" y1="296.1" x2="444.3" y2="296.1" stroke="#111" stroke-width="1.5" />
<line x1="441.9" y1="292.6" x2="444.3" y2="292.6" stroke="#1a1a1a" stroke-width="0.9" />
<line x1="441.9" y1="289.1" x2="444.3" y2="289.1" stroke="#1a1a1a" stroke-width="0.9" />
<line x1="441.9" y1="285.7" x2="444.3" y2="285.7" stroke="#1a1a1a" stroke-width="0.9" />
<line x1="441.9" y1="282.2" x2="444.3" y2="282.2" stroke="#1a1a1a" stroke-width="0.9" />
<line x1="439.3" y1="278.7" x2="444.3" y2="278.7" stroke="#111" stroke-width="1.5" />
<line x1="441.9" y1="275.2" x2="444.3" y2="275.2" stroke="#1a1a1a" stroke-width="0.9" />
<line x1="441.9" y1="271.7" x2="444.3" y2="271.7" stroke="#1a1a1a" stroke-width="0.9" />
<line x1="441.9" y1="268.3" x2="444.3" y2="268.3" stroke="#1a1a1a" stroke-width="0.9" />
<line x1="441.9" y1="264.8" x2="444.3" y2="264.8" stroke="#1a1a1a" stroke-width="0.9" />
<line x1="439.3" y1="261.3" x2="444.3" y2="261.3" stroke="#111" stroke-width="1.5" />
<line x1="441.9" y1="257.8" x2="444.3" y2="257.8" stroke="#1a1a1a" stroke-width="0.9" />
<line x1="441.9" y1="254.3" x2="444.3" y2="254.3" stroke="#1a1a1a" stroke-width="0.9" />
<line x1="441.9" y1="250.9" x2="444.3" y2="250.9" stroke="#1a1a1a" stroke-width="0.9" />
<line x1="441.9" y1="247.4" x2="444.3" y2="247.4" stroke="#1a1a1a" stroke-width="0.9" />
<line x1="439.3" y1="243.9" x2="444.3" y2="243.9" stroke="#111" stroke-width="1.5" />
<line x1="444.3" y1="330.9" x2="444.3" y2="336.2" stroke="#111" stroke-width="1.6" />
<line x1="450.4" y1="330.9" x2="450.4" y2="333.5" stroke="#151515" stroke-width="1.05" />
<line x1="453.9" y1="330.9" x2="453.9" y2="333.5" stroke="#151515" stroke-width="1.05" />
<line x1="456.4" y1="330.9" x2="456.4" y2="334.2" stroke="#151515" stroke-width="1.05" />
<line x1="458.3" y1="330.9" x2="458.3" y2="334.2" stroke="#151515" stroke-width="1.35" />
<line x1="459.9" y1="330.9" x2="459.9" y2="334.2" stroke="#151515" stroke-width="1.35" />
<line x1="461.3" y1="330.9" x2="461.3" y2="334.2" stroke="#151515" stroke-width="1.35" />
<line x1="462.5" y1="330.9" x2="462.5" y2="334.2" stroke="#151515" stroke-width="1.35" />
<line x1="463.5" y1="330.9" x2="463.5" y2="334.2" stroke="#151515" stroke-width="1.35" />
<line x1="464.4" y1="330.9" x2="464.4" y2="336.2" stroke="#111" stroke-width="1.6" />
<line x1="470.5" y1="330.9" x2="470.5" y2="333.5" stroke="#151515" stroke-width="1.05" />
<line x1="474.0" y1="330.9" x2="474.0" y2="333.5" stroke="#151515" stroke-width="1.05" />
<line x1="476.5" y1="330.9" x2="476.5" y2="334.2" stroke="#151515" stroke-width="1.05" />
<line x1="478.4" y1="330.9" x2="478.4" y2="334.2" stroke="#151515" stroke-width="1.35" />
<line x1="480.0" y1="330.9" x2="480.0" y2="334.2" stroke="#151515" stroke-width="1.35" />
<line x1="481.4" y1="330.9" x2="481.4" y2="334.2" stroke="#151515" stroke-width="1.35" />
<line x1="482.6" y1="330.9" x2="482.6" y2="334.2" stroke="#151515" stroke-width="1.35" />
<line x1="483.6" y1="330.9" x2="483.6" y2="334.2" stroke="#151515" stroke-width="1.35" />
<line x1="484.5" y1="330.9" x2="484.5" y2="336.2" stroke="#111" stroke-width="1.6" />
<line x1="490.6" y1="330.9" x2="490.6" y2="333.5" stroke="#151515" stroke-width="1.05" />
<line x1="494.1" y1="330.9" x2="494.1" y2="333.5" stroke="#151515" stroke-width="1.05" />
<line x1="496.6" y1="330.9" x2="496.6" y2="334.2" stroke="#151515" stroke-width="1.05" />
<line x1="498.5" y1="330.9" x2="498.5" y2="334.2" stroke="#151515" stroke-width="1.35" />
<line x1="500.1" y1="330.9" x2="500.1" y2="334.2" stroke="#151515" stroke-width="1.35" />
<line x1="501.5" y1="330.9" x2="501.5" y2="334.2" stroke="#151515" stroke-width="1.35" />
<line x1="502.7" y1="330.9" x2="502.7" y2="334.2" stroke="#151515" stroke-width="1.35" />
<line x1="503.7" y1="330.9" x2="503.7" y2="334.2" stroke="#151515" stroke-width="1.35" />
<line x1="504.6" y1="330.9" x2="504.6" y2="336.2" stroke="#111" stroke-width="1.6" />
<line x1="510.7" y1="330.9" x2="510.7" y2="333.5" stroke="#151515" stroke-width="1.05" />
<line x1="514.2" y1="330.9" x2="514.2" y2="333.5" stroke="#151515" stroke-width="1.05" />
<line x1="516.7" y1="330.9" x2="516.7" y2="334.2" stroke="#151515" stroke-width="1.05" />
<line x1="518.6" y1="330.9" x2="518.6" y2="334.2" stroke="#151515" stroke-width="1.35" />
<line x1="520.2" y1="330.9" x2="520.2" y2="334.2" stroke="#151515" stroke-width="1.35" />
<line x1="521.6" y1="330.9" x2="521.6" y2="334.2" stroke="#151515" stroke-width="1.35" />
<line x1="522.8" y1="330.9" x2="522.8" y2="334.2" stroke="#151515" stroke-width="1.35" />
<line x1="523.8" y1="330.9" x2="523.8" y2="334.2" stroke="#151515" stroke-width="1.35" />
<line x1="524.7" y1="330.9" x2="524.7" y2="336.2" stroke="#111" stroke-width="1.6" />
<line x1="530.8" y1="330.9" x2="530.8" y2="333.5" stroke="#151515" stroke-width="1.05" />
<polyline points="562.4,238.6 652.8,238.6 652.8,329.5" fill="none" stroke="#d6d6d6" stroke-width="0.8"/>
<polyline points="562.4,327.7 566.6,324.9 570.4,325.8 574.2,321.1 578.0,313.5 581.8,305.9 585.5,292.6 588.4,288.8 590.9,286.9 592.8,270.8 595.0,288.8 596.9,297.4 599.2,290.7 601.7,295.5 603.6,309.7 606.4,323.0 609.3,328.3" fill="none" stroke="#8c8c8c" stroke-width="1.2" stroke-linejoin="round" stroke-linecap="round"/>
<polyline points="562.4,329.1 587.4,328.7 592.2,326.8 596.0,317.3 598.8,304.0 601.1,295.5 603.6,292.6 605.5,281.2 607.4,294.5 609.3,315.4 611.7,327.7 615.9,329.1" fill="none" stroke="#606060" stroke-width="1.7" stroke-linejoin="round" stroke-linecap="round"/>
<polyline points="562.4,328.7 567.5,323.9 575.1,315.4 578.9,309.7 582.7,296.4 586.5,285.0 589.0,281.2 590.9,259.4 593.1,268.9 595.4,267.0 597.9,276.5 600.4,268.0 602.6,270.8 605.5,285.0 607.4,302.1 609.3,319.2 611.7,327.7 615.9,329.1" fill="none" stroke="#111" stroke-width="1.75" stroke-linejoin="round" stroke-linecap="round"/>
<line x1="562.4" y1="241.2" x2="562.4" y2="330.4" stroke="#111" stroke-width="1.7" />
<line x1="561.5" y1="329.5" x2="652.0" y2="329.5" stroke="#111" stroke-width="1.8" />
<line x1="557.4" y1="329.5" x2="562.4" y2="329.5" stroke="#111" stroke-width="1.5" />
<line x1="560.0" y1="326.0" x2="562.4" y2="326.0" stroke="#1a1a1a" stroke-width="0.9" />
<line x1="560.0" y1="322.5" x2="562.4" y2="322.5" stroke="#1a1a1a" stroke-width="0.9" />
<line x1="560.0" y1="319.0" x2="562.4" y2="319.0" stroke="#1a1a1a" stroke-width="0.9" />
<line x1="560.0" y1="315.6" x2="562.4" y2="315.6" stroke="#1a1a1a" stroke-width="0.9" />
<line x1="557.4" y1="312.1" x2="562.4" y2="312.1" stroke="#111" stroke-width="1.5" />
<line x1="560.0" y1="308.6" x2="562.4" y2="308.6" stroke="#1a1a1a" stroke-width="0.9" />
<line x1="560.0" y1="305.1" x2="562.4" y2="305.1" stroke="#1a1a1a" stroke-width="0.9" />
<line x1="560.0" y1="301.6" x2="562.4" y2="301.6" stroke="#1a1a1a" stroke-width="0.9" />
<line x1="560.0" y1="298.1" x2="562.4" y2="298.1" stroke="#1a1a1a" stroke-width="0.9" />
<line x1="557.4" y1="294.7" x2="562.4" y2="294.7" stroke="#111" stroke-width="1.5" />
<line x1="560.0" y1="291.2" x2="562.4" y2="291.2" stroke="#1a1a1a" stroke-width="0.9" />
<line x1="560.0" y1="287.7" x2="562.4" y2="287.7" stroke="#1a1a1a" stroke-width="0.9" />
<line x1="560.0" y1="284.2" x2="562.4" y2="284.2" stroke="#1a1a1a" stroke-width="0.9" />
<line x1="560.0" y1="280.7" x2="562.4" y2="280.7" stroke="#1a1a1a" stroke-width="0.9" />
<line x1="557.4" y1="277.2" x2="562.4" y2="277.2" stroke="#111" stroke-width="1.5" />
<line x1="560.0" y1="273.8" x2="562.4" y2="273.8" stroke="#1a1a1a" stroke-width="0.9" />
<line x1="560.0" y1="270.3" x2="562.4" y2="270.3" stroke="#1a1a1a" stroke-width="0.9" />
<line x1="560.0" y1="266.8" x2="562.4" y2="266.8" stroke="#1a1a1a" stroke-width="0.9" />
<line x1="560.0" y1="263.3" x2="562.4" y2="263.3" stroke="#1a1a1a" stroke-width="0.9" />
<line x1="557.4" y1="259.8" x2="562.4" y2="259.8" stroke="#111" stroke-width="1.5" />
<line x1="560.0" y1="256.3" x2="562.4" y2="256.3" stroke="#1a1a1a" stroke-width="0.9" />
<line x1="560.0" y1="252.9" x2="562.4" y2="252.9" stroke="#1a1a1a" stroke-width="0.9" />
<line x1="560.0" y1="249.4" x2="562.4" y2="249.4" stroke="#1a1a1a" stroke-width="0.9" />
<line x1="560.0" y1="245.9" x2="562.4" y2="245.9" stroke="#1a1a1a" stroke-width="0.9" />
<line x1="557.4" y1="242.4" x2="562.4" y2="242.4" stroke="#111" stroke-width="1.5" />
<line x1="562.4" y1="329.5" x2="562.4" y2="334.8" stroke="#111" stroke-width="1.6" />
<line x1="568.5" y1="329.5" x2="568.5" y2="332.1" stroke="#151515" stroke-width="1.05" />
<line x1="572.0" y1="329.5" x2="572.0" y2="332.1" stroke="#151515" stroke-width="1.05" />
<line x1="574.5" y1="329.5" x2="574.5" y2="332.8" stroke="#151515" stroke-width="1.05" />
<line x1="576.4" y1="329.5" x2="576.4" y2="332.8" stroke="#151515" stroke-width="1.35" />
<line x1="578.0" y1="329.5" x2="578.0" y2="332.8" stroke="#151515" stroke-width="1.35" />
<line x1="579.4" y1="329.5" x2="579.4" y2="332.8" stroke="#151515" stroke-width="1.35" />
<line x1="580.6" y1="329.5" x2="580.6" y2="332.8" stroke="#151515" stroke-width="1.35" />
<line x1="581.6" y1="329.5" x2="581.6" y2="332.8" stroke="#151515" stroke-width="1.35" />
<line x1="582.5" y1="329.5" x2="582.5" y2="334.8" stroke="#111" stroke-width="1.6" />
<line x1="588.6" y1="329.5" x2="588.6" y2="332.1" stroke="#151515" stroke-width="1.05" />
<line x1="592.1" y1="329.5" x2="592.1" y2="332.1" stroke="#151515" stroke-width="1.05" />
<line x1="594.6" y1="329.5" x2="594.6" y2="332.8" stroke="#151515" stroke-width="1.05" />
<line x1="596.5" y1="329.5" x2="596.5" y2="332.8" stroke="#151515" stroke-width="1.35" />
<line x1="598.1" y1="329.5" x2="598.1" y2="332.8" stroke="#151515" stroke-width="1.35" />
<line x1="599.5" y1="329.5" x2="599.5" y2="332.8" stroke="#151515" stroke-width="1.35" />
<line x1="600.7" y1="329.5" x2="600.7" y2="332.8" stroke="#151515" stroke-width="1.35" />
<line x1="601.7" y1="329.5" x2="601.7" y2="332.8" stroke="#151515" stroke-width="1.35" />
<line x1="602.6" y1="329.5" x2="602.6" y2="334.8" stroke="#111" stroke-width="1.6" />
<line x1="608.7" y1="329.5" x2="608.7" y2="332.1" stroke="#151515" stroke-width="1.05" />
<line x1="612.2" y1="329.5" x2="612.2" y2="332.1" stroke="#151515" stroke-width="1.05" />
<line x1="614.7" y1="329.5" x2="614.7" y2="332.8" stroke="#151515" stroke-width="1.05" />
<line x1="616.6" y1="329.5" x2="616.6" y2="332.8" stroke="#151515" stroke-width="1.35" />
<line x1="618.2" y1="329.5" x2="618.2" y2="332.8" stroke="#151515" stroke-width="1.35" />
<line x1="619.6" y1="329.5" x2="619.6" y2="332.8" stroke="#151515" stroke-width="1.35" />
<line x1="620.8" y1="329.5" x2="620.8" y2="332.8" stroke="#151515" stroke-width="1.35" />
<line x1="621.8" y1="329.5" x2="621.8" y2="332.8" stroke="#151515" stroke-width="1.35" />
<line x1="622.7" y1="329.5" x2="622.7" y2="334.8" stroke="#111" stroke-width="1.6" />
<line x1="628.8" y1="329.5" x2="628.8" y2="332.1" stroke="#151515" stroke-width="1.05" />
<line x1="632.3" y1="329.5" x2="632.3" y2="332.1" stroke="#151515" stroke-width="1.05" />
<line x1="634.8" y1="329.5" x2="634.8" y2="332.8" stroke="#151515" stroke-width="1.05" />
<line x1="636.7" y1="329.5" x2="636.7" y2="332.8" stroke="#151515" stroke-width="1.35" />
<line x1="638.3" y1="329.5" x2="638.3" y2="332.8" stroke="#151515" stroke-width="1.35" />
<line x1="639.7" y1="329.5" x2="639.7" y2="332.8" stroke="#151515" stroke-width="1.35" />
<line x1="640.9" y1="329.5" x2="640.9" y2="332.8" stroke="#151515" stroke-width="1.35" />
<line x1="641.9" y1="329.5" x2="641.9" y2="332.8" stroke="#151515" stroke-width="1.35" />
<line x1="642.8" y1="329.5" x2="642.8" y2="334.8" stroke="#111" stroke-width="1.6" />
<line x1="648.9" y1="329.5" x2="648.9" y2="332.1" stroke="#151515" stroke-width="1.05" />
<line x1="305.3" y1="318.6" x2="305.3" y2="347.5" stroke="#1a1a1a" stroke-width="1.55" />
<line x1="304.5" y1="346.7" x2="334.5" y2="346.7" stroke="#1a1a1a" stroke-width="1.55" />
<polygon points="305.3,313.6 301.7,320.6 308.9,320.6" fill="#1a1a1a"/>
<polygon points="339.5,346.7 332.5,343.1 332.5,350.3" fill="#1a1a1a"/>
<text transform="translate(309.0,290.5) rotate(-90) scale(1,1)" font-size="12.0" text-anchor="middle" fill="#1a1a1a" >Events</text>
<text x="345.6" y="350.6" font-size="12.0" text-anchor="start" font-weight="normal" fill="#1a1a1a" >CD103</text>
<text x="486.4" y="350.6" font-size="12.0" text-anchor="middle" font-weight="normal" fill="#1a1a1a" >CD69</text>
<text x="604.5" y="350.6" font-size="12.0" text-anchor="middle" font-weight="normal" fill="#1a1a1a" >CD127</text>
<text transform="translate(23.9,493.0) rotate(-90) scale(1,1)" font-size="11.8" text-anchor="middle" fill="#1a1a1a" >MFI on donor cells</text>
<text x="96.8" y="424.7" font-size="11.8" text-anchor="middle" font-weight="normal" fill="#1a1a1a" >CD103</text>
<line x1="58.0" y1="433.9" x2="58.0" y2="551.8" stroke="#1a1a1a" stroke-width="1.2" />
<line x1="57.4" y1="551.2" x2="136.2" y2="551.2" stroke="#1a1a1a" stroke-width="1.2" />
<line x1="54.6" y1="434.6" x2="58.0" y2="434.6" stroke="#1a1a1a" stroke-width="1.2" />
<text transform="translate(50.1,439.2) scale(1.07,1)" font-size="10.8" text-anchor="end" fill="#1a1a1a">150</text>
<line x1="54.6" y1="473.5" x2="58.0" y2="473.5" stroke="#1a1a1a" stroke-width="1.2" />
<text transform="translate(50.1,478.1) scale(1.07,1)" font-size="10.8" text-anchor="end" fill="#1a1a1a">100</text>
<line x1="54.6" y1="512.5" x2="58.0" y2="512.5" stroke="#1a1a1a" stroke-width="1.2" />
<text transform="translate(50.1,517.1) scale(1.07,1)" font-size="10.8" text-anchor="end" fill="#1a1a1a">50</text>
<line x1="54.6" y1="551.2" x2="58.0" y2="551.2" stroke="#1a1a1a" stroke-width="1.2" />
<text transform="translate(50.1,555.8) scale(1.07,1)" font-size="10.8" text-anchor="end" fill="#1a1a1a">0</text>
<line x1="70.7" y1="551.2" x2="70.7" y2="554.6" stroke="#1a1a1a" stroke-width="1.2" />
<line x1="96.8" y1="551.2" x2="96.8" y2="554.6" stroke="#1a1a1a" stroke-width="1.2" />
<line x1="122.6" y1="551.2" x2="122.6" y2="554.6" stroke="#1a1a1a" stroke-width="1.2" />
<line x1="71.1" y1="472.4" x2="71.1" y2="475.3" stroke="#222" stroke-width="1.2" />
<line x1="66.8" y1="472.4" x2="75.5" y2="472.4" stroke="#222" stroke-width="1.2" />
<rect x="62.5" y="475.8" width="17.3" height="75.5" fill="#fff" stroke="#1a1a1a" stroke-width="0.9"/>
<line x1="96.7" y1="484.3" x2="96.7" y2="502.0" stroke="#222" stroke-width="1.2" />
<line x1="92.6" y1="484.3" x2="101.4" y2="484.3" stroke="#222" stroke-width="1.2" />
<rect x="88.1" y="502.5" width="17.2" height="48.7" fill="#1c1c1c" stroke="#1a1a1a" stroke-width="1.0"/>
<line x1="122.9" y1="459.3" x2="122.9" y2="485.4" stroke="#222" stroke-width="1.2" />
<line x1="118.2" y1="459.3" x2="127.0" y2="459.3" stroke="#222" stroke-width="1.2" />
<rect x="114.4" y="485.9" width="16.9" height="65.3" fill="#b4b4b4" stroke="#1a1a1a" stroke-width="1.0"/>
<text x="217.1" y="424.7" font-size="11.8" text-anchor="middle" font-weight="normal" fill="#1a1a1a" >CD69</text>
<line x1="178.2" y1="434.4" x2="178.2" y2="552.3" stroke="#1a1a1a" stroke-width="1.2" />
<line x1="177.6" y1="551.7" x2="256.3" y2="551.7" stroke="#1a1a1a" stroke-width="1.2" />
<line x1="174.8" y1="435.2" x2="178.2" y2="435.2" stroke="#1a1a1a" stroke-width="1.2" />
<text transform="translate(170.1,439.8) scale(1.07,1)" font-size="10.8" text-anchor="end" fill="#1a1a1a">800</text>
<line x1="174.8" y1="464.2" x2="178.2" y2="464.2" stroke="#1a1a1a" stroke-width="1.2" />
<text transform="translate(170.1,468.8) scale(1.07,1)" font-size="10.8" text-anchor="end" fill="#1a1a1a">600</text>
<line x1="174.8" y1="493.5" x2="178.2" y2="493.5" stroke="#1a1a1a" stroke-width="1.2" />
<text transform="translate(170.1,498.1) scale(1.07,1)" font-size="10.8" text-anchor="end" fill="#1a1a1a">400</text>
<line x1="174.8" y1="522.7" x2="178.2" y2="522.7" stroke="#1a1a1a" stroke-width="1.2" />
<text transform="translate(170.1,527.3) scale(1.07,1)" font-size="10.8" text-anchor="end" fill="#1a1a1a">200</text>
<line x1="174.8" y1="551.7" x2="178.2" y2="551.7" stroke="#1a1a1a" stroke-width="1.2" />
<text transform="translate(170.1,556.3) scale(1.07,1)" font-size="10.8" text-anchor="end" fill="#1a1a1a">0</text>
<line x1="191.3" y1="551.7" x2="191.3" y2="555.1" stroke="#1a1a1a" stroke-width="1.2" />
<line x1="217.1" y1="551.7" x2="217.1" y2="555.1" stroke="#1a1a1a" stroke-width="1.2" />
<line x1="243.0" y1="551.7" x2="243.0" y2="555.1" stroke="#1a1a1a" stroke-width="1.2" />
<line x1="191.1" y1="534.4" x2="191.1" y2="535.6" stroke="#222" stroke-width="1.2" />
<line x1="187.4" y1="534.4" x2="195.5" y2="534.4" stroke="#222" stroke-width="1.2" />
<rect x="182.3" y="536.1" width="17.4" height="15.7" fill="#fff" stroke="#1a1a1a" stroke-width="0.9"/>
<line x1="217.1" y1="479.4" x2="217.1" y2="482.1" stroke="#222" stroke-width="1.2" />
<line x1="212.8" y1="479.4" x2="222.0" y2="479.4" stroke="#222" stroke-width="1.2" />
<rect x="208.4" y="482.6" width="17.4" height="69.1" fill="#1c1c1c" stroke="#1a1a1a" stroke-width="1.0"/>
<line x1="243.2" y1="459.7" x2="243.2" y2="470.0" stroke="#222" stroke-width="1.2" />
<line x1="238.8" y1="459.7" x2="247.6" y2="459.7" stroke="#222" stroke-width="1.2" />
<rect x="234.9" y="470.5" width="16.6" height="81.2" fill="#b4b4b4" stroke="#1a1a1a" stroke-width="1.0"/>
<line x1="190.2" y1="440.5" x2="241.7" y2="440.5" stroke="#555" stroke-width="1.3" />
<text x="217.6" y="442.8" font-size="13.5" text-anchor="middle" font-weight="normal" fill="#1a1a1a" letter-spacing="0.5">***</text>
<line x1="208.4" y1="451.6" x2="242.8" y2="451.6" stroke="#555" stroke-width="1.3" />
<text x="227.0" y="450.0" font-size="11.8" text-anchor="middle" font-weight="normal" fill="#1a1a1a" >NS</text>
<line x1="188.7" y1="464.6" x2="213.9" y2="464.6" stroke="#555" stroke-width="1.3" />
<text x="201.8" y="466.9" font-size="13.5" text-anchor="middle" font-weight="normal" fill="#1a1a1a" letter-spacing="0.5">***</text>
<text x="343.0" y="424.7" font-size="11.8" text-anchor="middle" font-weight="normal" fill="#1a1a1a" >CD127</text>
<line x1="303.6" y1="433.8" x2="303.6" y2="552.7" stroke="#1a1a1a" stroke-width="1.2" />
<line x1="303.0" y1="552.1" x2="382.0" y2="552.1" stroke="#1a1a1a" stroke-width="1.2" />
<line x1="300.2" y1="434.6" x2="303.6" y2="434.6" stroke="#1a1a1a" stroke-width="1.2" />
<text transform="translate(296.3,439.2) scale(1.07,1)" font-size="10.8" text-anchor="end" fill="#1a1a1a">1,500</text>
<line x1="300.2" y1="474.0" x2="303.6" y2="474.0" stroke="#1a1a1a" stroke-width="1.2" />
<text transform="translate(296.3,478.6) scale(1.07,1)" font-size="10.8" text-anchor="end" fill="#1a1a1a">1,000</text>
<line x1="300.2" y1="513.4" x2="303.6" y2="513.4" stroke="#1a1a1a" stroke-width="1.2" />
<text transform="translate(296.3,518.0) scale(1.07,1)" font-size="10.8" text-anchor="end" fill="#1a1a1a">500</text>
<line x1="300.2" y1="552.1" x2="303.6" y2="552.1" stroke="#1a1a1a" stroke-width="1.2" />
<text transform="translate(296.3,556.7) scale(1.07,1)" font-size="10.8" text-anchor="end" fill="#1a1a1a">0</text>
<line x1="317.0" y1="552.1" x2="317.0" y2="555.5" stroke="#1a1a1a" stroke-width="1.2" />
<line x1="343.0" y1="552.1" x2="343.0" y2="555.5" stroke="#1a1a1a" stroke-width="1.2" />
<line x1="368.9" y1="552.1" x2="368.9" y2="555.5" stroke="#1a1a1a" stroke-width="1.2" />
<line x1="317.0" y1="456.7" x2="317.0" y2="460.0" stroke="#222" stroke-width="1.2" />
<line x1="312.4" y1="456.7" x2="321.3" y2="456.7" stroke="#222" stroke-width="1.2" />
<rect x="308.1" y="460.5" width="17.6" height="91.6" fill="#fff" stroke="#1a1a1a" stroke-width="1.05"/>
<line x1="342.9" y1="506.4" x2="342.9" y2="510.1" stroke="#222" stroke-width="1.2" />
<line x1="338.2" y1="506.4" x2="347.6" y2="506.4" stroke="#222" stroke-width="1.2" />
<rect x="334.3" y="510.6" width="17.2" height="41.5" fill="#1c1c1c" stroke="#1a1a1a" stroke-width="1.0"/>
<line x1="369.1" y1="522.1" x2="369.1" y2="529.4" stroke="#222" stroke-width="1.2" />
<line x1="364.5" y1="522.1" x2="373.7" y2="522.1" stroke="#222" stroke-width="1.2" />
<rect x="360.6" y="529.9" width="16.9" height="22.2" fill="#b4b4b4" stroke="#1a1a1a" stroke-width="1.0"/>
<line x1="314.1" y1="438.3" x2="366.7" y2="438.3" stroke="#555" stroke-width="1.3" />
<text x="343.0" y="440.0" font-size="13.5" text-anchor="middle" font-weight="normal" fill="#1a1a1a" letter-spacing="0.5">***</text>
<line x1="314.6" y1="449.2" x2="349.2" y2="449.2" stroke="#555" stroke-width="1.3" />
<text x="332.7" y="451.1" font-size="13.5" text-anchor="middle" font-weight="normal" fill="#1a1a1a" letter-spacing="0.5">***</text>
<line x1="339.3" y1="457.6" x2="373.2" y2="457.6" stroke="#555" stroke-width="1.3" />
<text x="356.8" y="459.3" font-size="13.5" text-anchor="middle" font-weight="normal" fill="#1a1a1a" letter-spacing="0.5">**</text>
<rect x="58.1" y="578.2" width="13.5" height="10.3" rx="1.0" fill="#fff" stroke="#1a1a1a" stroke-width="1.4"/>
<text x="76.0" y="588.4" font-size="11.7" text-anchor="start" font-weight="normal" fill="#1a1a1a" >Isotype Ab: i.v.<tspan dy="-4.7" font-size="8.4">labeled</tspan></text>
<rect x="197.2" y="578.3" width="13.9" height="10.8" rx="1.0" fill="#1c1c1c" stroke="#1a1a1a" stroke-width="1.0"/>
<text x="215.6" y="588.4" font-size="11.7" text-anchor="start" font-weight="normal" fill="#1a1a1a" >Isotype Ab: i.v.<tspan dy="-4.7" font-size="8.3">shielded</tspan></text>
<rect x="341.9" y="578.8" width="12.6" height="10.2" rx="1.0" fill="#b4b4b4" stroke="#1a1a1a" stroke-width="1.4"/>
<text x="359.4" y="588.6" font-size="11.7" text-anchor="start" font-weight="normal" fill="#1a1a1a" >IL-2 neutralizing Ab: i.v.<tspan dy="-4.7" font-size="8.3">shielded</tspan></text>
<rect x="341.5" y="600.3" width="13.1" height="10.1" rx="1.0" fill="url(#dots)" stroke="#4a4a4a" stroke-width="1.2"/>
<text x="359.2" y="610.4" font-size="11.7" text-anchor="start" font-weight="normal" fill="#1a1a1a" >Uninfected control: i.v.<tspan dy="-4.7" font-size="8.4">labeled</tspan></text>
<text transform="translate(409.4,493.0) rotate(-90) scale(1,1)" font-size="12.0" text-anchor="middle" fill="#1a1a1a" >MFI of donor cells</text>
<text x="459.6" y="424.7" font-size="11.8" text-anchor="start" font-weight="normal" fill="#1a1a1a" >Nur77<tspan dy="-3.9" font-size="8.0">GFP</tspan></text>
<line x1="444.8" y1="434.1" x2="444.8" y2="551.8" stroke="#484848" stroke-width="1.1" />
<line x1="444.2" y1="551.3" x2="522.9" y2="551.3" stroke="#484848" stroke-width="1.1" />
<line x1="441.4" y1="435.0" x2="444.8" y2="435.0" stroke="#484848" stroke-width="1.1" />
<text transform="translate(437.4,439.4) scale(0.97,1)" font-size="11.4" text-anchor="end" fill="#1a1a1a">500</text>
<line x1="441.4" y1="458.3" x2="444.8" y2="458.3" stroke="#484848" stroke-width="1.1" />
<text transform="translate(437.4,462.7) scale(0.97,1)" font-size="11.4" text-anchor="end" fill="#1a1a1a">400</text>
<line x1="441.4" y1="481.6" x2="444.8" y2="481.6" stroke="#484848" stroke-width="1.1" />
<text transform="translate(437.4,486.0) scale(0.97,1)" font-size="11.4" text-anchor="end" fill="#1a1a1a">300</text>
<line x1="441.4" y1="504.8" x2="444.8" y2="504.8" stroke="#484848" stroke-width="1.1" />
<text transform="translate(437.4,509.2) scale(0.97,1)" font-size="11.4" text-anchor="end" fill="#1a1a1a">200</text>
<line x1="441.4" y1="528.1" x2="444.8" y2="528.1" stroke="#484848" stroke-width="1.1" />
<text transform="translate(437.4,532.5) scale(0.97,1)" font-size="11.4" text-anchor="end" fill="#1a1a1a">100</text>
<line x1="441.4" y1="551.3" x2="444.8" y2="551.3" stroke="#484848" stroke-width="1.1" />
<text transform="translate(437.4,555.7) scale(0.97,1)" font-size="11.4" text-anchor="end" fill="#1a1a1a">0</text>
<line x1="454.8" y1="551.3" x2="454.8" y2="554.7" stroke="#484848" stroke-width="1.1" />
<line x1="473.9" y1="551.3" x2="473.9" y2="554.7" stroke="#484848" stroke-width="1.1" />
<line x1="493.3" y1="551.3" x2="493.3" y2="554.7" stroke="#484848" stroke-width="1.1" />
<line x1="512.7" y1="551.3" x2="512.7" y2="554.7" stroke="#484848" stroke-width="1.1" />
<line x1="454.3" y1="473.1" x2="454.3" y2="477.9" stroke="#222" stroke-width="1.2" />
<line x1="450.7" y1="473.1" x2="457.9" y2="473.1" stroke="#222" stroke-width="1.2" />
<rect x="447.8" y="478.3" width="12.9" height="72.9" fill="url(#dots)" stroke="#4a4a4a" stroke-width="0.9"/>
<line x1="473.8" y1="459.7" x2="473.8" y2="466.8" stroke="#222" stroke-width="1.2" />
<line x1="470.4" y1="459.7" x2="477.6" y2="459.7" stroke="#222" stroke-width="1.2" />
<rect x="467.5" y="467.3" width="12.6" height="84.0" fill="#fff" stroke="#1a1a1a" stroke-width="1.0"/>
<line x1="493.6" y1="469.6" x2="493.6" y2="472.4" stroke="#222" stroke-width="1.2" />
<line x1="489.8" y1="469.6" x2="497.1" y2="469.6" stroke="#222" stroke-width="1.2" />
<rect x="487.3" y="472.9" width="12.7" height="78.4" fill="#1c1c1c" stroke="#1a1a1a" stroke-width="1.0"/>
<line x1="513.0" y1="475.5" x2="513.0" y2="480.8" stroke="#222" stroke-width="1.2" />
<line x1="509.1" y1="475.5" x2="516.5" y2="475.5" stroke="#222" stroke-width="1.2" />
<rect x="506.7" y="481.4" width="12.8" height="69.9" fill="#b4b4b4" stroke="#1a1a1a" stroke-width="1.1"/>
<text transform="translate(549.3,493.0) rotate(-90) scale(1,1)" font-size="11.93" text-anchor="middle" fill="#1a1a1a" >Number of donor cells</text>
<line x1="606.9" y1="434.6" x2="606.9" y2="552.6" stroke="#1a1a1a" stroke-width="1.2" />
<line x1="606.3" y1="552.0" x2="683.5" y2="552.0" stroke="#1a1a1a" stroke-width="1.2" />
<line x1="603.5" y1="435.4" x2="606.9" y2="435.4" stroke="#1a1a1a" stroke-width="1.2" />
<text transform="translate(598.7,439.6) scale(1.05,1)" font-size="10.4" text-anchor="end" fill="#1a1a1a">1.2<tspan dx="0.1" font-size="11.5">×</tspan><tspan dx="0.1">10</tspan><tspan dy="-3.7" font-size="9.4">4</tspan></text>
<line x1="603.5" y1="474.3" x2="606.9" y2="474.3" stroke="#1a1a1a" stroke-width="1.2" />
<text transform="translate(598.7,478.5) scale(1.05,1)" font-size="10.4" text-anchor="end" fill="#1a1a1a">8.0<tspan dx="0.1" font-size="11.5">×</tspan><tspan dx="0.1">10</tspan><tspan dy="-3.7" font-size="9.4">3</tspan></text>
<line x1="603.5" y1="513.2" x2="606.9" y2="513.2" stroke="#1a1a1a" stroke-width="1.2" />
<text transform="translate(598.7,517.4) scale(1.05,1)" font-size="10.4" text-anchor="end" fill="#1a1a1a">4.0<tspan dx="0.1" font-size="11.5">×</tspan><tspan dx="0.1">10</tspan><tspan dy="-3.7" font-size="9.4">3</tspan></text>
<line x1="603.5" y1="552.0" x2="606.9" y2="552.0" stroke="#1a1a1a" stroke-width="1.2" />
<text transform="translate(598.7,556.2) scale(1.05,1)" font-size="10.4" text-anchor="end" fill="#1a1a1a">0.0</text>
<line x1="626.3" y1="552.0" x2="626.3" y2="555.4" stroke="#1a1a1a" stroke-width="1.2" />
<line x1="665.6" y1="552.0" x2="665.6" y2="555.4" stroke="#1a1a1a" stroke-width="1.2" />
<line x1="626.1" y1="436.3" x2="626.1" y2="468.5" stroke="#222" stroke-width="1.2" />
<line x1="620.9" y1="436.3" x2="631.3" y2="436.3" stroke="#222" stroke-width="1.2" />
<rect x="616.9" y="469.1" width="18.3" height="83.0" fill="#b4b4b4" stroke="#1a1a1a" stroke-width="1.1"/>
<line x1="665.5" y1="484.0" x2="665.5" y2="506.3" stroke="#222" stroke-width="1.2" />
<line x1="660.3" y1="484.0" x2="670.7" y2="484.0" stroke="#222" stroke-width="1.2" />
<rect x="656.3" y="506.9" width="18.3" height="45.1" fill="#b4b4b4" stroke="#1a1a1a" stroke-width="1.1"/>
<text transform="translate(631.5,562.8) rotate(-45) scale(1,1)" font-size="11.4" text-anchor="end" fill="#1a1a1a" >IL-2 nAb</text>
<text transform="translate(670.8,562.8) rotate(-45) scale(1,1)" font-size="11.4" text-anchor="end" fill="#1a1a1a" >IL-2 nAb + IL-7R bAb</text>
<text transform="translate(14.3,723.4) rotate(-90) scale(1.175,1)" font-size="10.1" text-anchor="middle" fill="#1a1a1a" >Number of donor cells</text>
<text x="96.8" y="646.9" font-size="11.8" text-anchor="middle" font-weight="normal" fill="#1a1a1a" >Spleen</text>
<line x1="57.2" y1="663.7" x2="57.2" y2="782.1" stroke="#484848" stroke-width="1.1" />
<line x1="56.7" y1="781.6" x2="135.8" y2="781.6" stroke="#484848" stroke-width="1.1" />
<line x1="53.8" y1="664.4" x2="57.2" y2="664.4" stroke="#484848" stroke-width="1.1" />
<text transform="translate(50.2,669.0) scale(1.03,1)" font-size="9.5" text-anchor="end" fill="#1a1a1a">8×10<tspan dy="-3.4" font-size="7.6">5</tspan></text>
<line x1="53.8" y1="693.6" x2="57.2" y2="693.6" stroke="#484848" stroke-width="1.1" />
<text transform="translate(50.2,698.2) scale(1.03,1)" font-size="9.5" text-anchor="end" fill="#1a1a1a">6×10<tspan dy="-3.4" font-size="7.6">5</tspan></text>
<line x1="53.8" y1="722.9" x2="57.2" y2="722.9" stroke="#484848" stroke-width="1.1" />
<text transform="translate(50.2,727.5) scale(1.03,1)" font-size="9.5" text-anchor="end" fill="#1a1a1a">4×10<tspan dy="-3.4" font-size="7.6">5</tspan></text>
<line x1="53.8" y1="752.3" x2="57.2" y2="752.3" stroke="#484848" stroke-width="1.1" />
<text transform="translate(50.2,756.9) scale(1.03,1)" font-size="9.5" text-anchor="end" fill="#1a1a1a">2×10<tspan dy="-3.4" font-size="7.6">5</tspan></text>
<line x1="53.8" y1="781.6" x2="57.2" y2="781.6" stroke="#484848" stroke-width="1.1" />
<text transform="translate(50.5,786.2) scale(1.03,1)" font-size="9.5" text-anchor="end" fill="#1a1a1a">0</text>
<line x1="76.5" y1="781.6" x2="76.5" y2="785.0" stroke="#484848" stroke-width="1.1" />
<line x1="116.0" y1="781.6" x2="116.0" y2="785.0" stroke="#484848" stroke-width="1.1" />
<line x1="76.7" y1="683.5" x2="76.7" y2="694.0" stroke="#222" stroke-width="1.2" />
<line x1="70.0" y1="683.5" x2="83.2" y2="683.5" stroke="#222" stroke-width="1.2" />
<rect x="64.0" y="694.5" width="25.3" height="87.1" fill="#1c1c1c" stroke="#1a1a1a" stroke-width="1.0"/>
<line x1="116.0" y1="746.1" x2="116.0" y2="748.3" stroke="#222" stroke-width="1.2" />
<line x1="109.5" y1="746.1" x2="122.6" y2="746.1" stroke="#222" stroke-width="1.2" />
<rect x="103.2" y="748.9" width="25.8" height="32.7" fill="#fff" stroke="#1a1a1a" stroke-width="1.3"/>
<line x1="75.5" y1="664.9" x2="118.2" y2="664.9" stroke="#555" stroke-width="1.3" />
<text x="97.9" y="665.3" font-size="13.5" text-anchor="middle" font-weight="normal" fill="#1a1a1a" letter-spacing="0.5">**</text>
<text x="243.0" y="646.9" font-size="11.8" text-anchor="middle" font-weight="normal" fill="#1a1a1a" >Lung</text>
<line x1="203.6" y1="663.0" x2="203.6" y2="782.6" stroke="#1a1a1a" stroke-width="1.2" />
<line x1="203.0" y1="782.0" x2="282.5" y2="782.0" stroke="#1a1a1a" stroke-width="1.2" />
<line x1="200.2" y1="663.8" x2="203.6" y2="663.8" stroke="#1a1a1a" stroke-width="1.2" />
<text transform="translate(196.2,667.6) scale(0.97,1)" font-size="10.0" text-anchor="end" fill="#1a1a1a">1.5×10<tspan dy="-3.6" font-size="7.8">5</tspan></text>
<line x1="200.2" y1="703.2" x2="203.6" y2="703.2" stroke="#1a1a1a" stroke-width="1.2" />
<text transform="translate(196.2,707.0) scale(0.97,1)" font-size="10.0" text-anchor="end" fill="#1a1a1a">1.0×10<tspan dy="-3.6" font-size="7.8">5</tspan></text>
<line x1="200.2" y1="742.6" x2="203.6" y2="742.6" stroke="#1a1a1a" stroke-width="1.2" />
<text transform="translate(196.2,746.4) scale(0.97,1)" font-size="10.0" text-anchor="end" fill="#1a1a1a">5.0×10<tspan dy="-3.6" font-size="7.8">4</tspan></text>
<line x1="200.2" y1="782.0" x2="203.6" y2="782.0" stroke="#1a1a1a" stroke-width="1.2" />
<text transform="translate(196.2,785.8) scale(0.97,1)" font-size="10.0" text-anchor="end" fill="#1a1a1a">0.0</text>
<line x1="223.8" y1="782.0" x2="223.8" y2="785.4" stroke="#1a1a1a" stroke-width="1.2" />
<line x1="262.9" y1="782.0" x2="262.9" y2="785.4" stroke="#1a1a1a" stroke-width="1.2" />
<line x1="223.6" y1="672.1" x2="223.6" y2="703.4" stroke="#222" stroke-width="1.2" />
<line x1="216.8" y1="672.1" x2="229.9" y2="672.1" stroke="#222" stroke-width="1.2" />
<rect x="210.7" y="703.9" width="25.7" height="78.1" fill="#1c1c1c" stroke="#1a1a1a" stroke-width="1.0"/>
<line x1="262.9" y1="714.3" x2="262.9" y2="724.2" stroke="#222" stroke-width="1.2" />
<line x1="256.6" y1="714.3" x2="269.8" y2="714.3" stroke="#222" stroke-width="1.2" />
<rect x="250.2" y="724.9" width="25.4" height="57.1" fill="#fff" stroke="#1a1a1a" stroke-width="1.3"/>
<line x1="225.5" y1="665.0" x2="268.8" y2="665.0" stroke="#555" stroke-width="1.3" />
<text x="247.4" y="662.6" font-size="11.8" text-anchor="middle" font-weight="normal" fill="#1a1a1a" >NS</text>
<rect x="300.0" y="675.0" width="16.5" height="9.3" rx="1.2" fill="#1c1c1c" stroke="#1a1a1a" stroke-width="1.0"/>
<text x="322.3" y="683.8" font-size="12.0" text-anchor="start" font-weight="normal" fill="#1a1a1a" >PBS</text>
<rect x="300.1" y="691.9" width="16.2" height="8.7" rx="1.2" fill="#fff" stroke="#1a1a1a" stroke-width="1.3"/>
<text x="322.3" y="700.6" font-size="12.0" text-anchor="start" font-weight="normal" fill="#1a1a1a" >FTY720</text>
</svg>
</body></html>
